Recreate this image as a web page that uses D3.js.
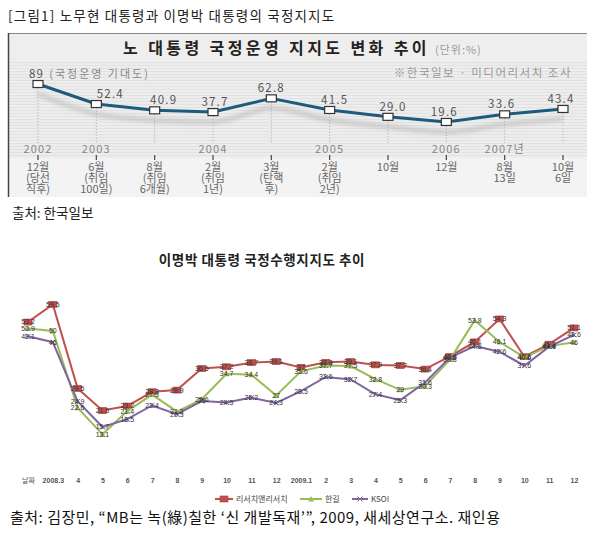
<!DOCTYPE html>
<html>
<head>
<meta charset="utf-8">
<script src="https://cdn.jsdelivr.net/npm/d3@7"></script>
<style>
  body { margin: 0; background: #fff; }
  svg { display: block; }
</style>
</head>
<body>
<script>
// ---- 노무현 대통령 국정운영 지지도 (한국일보)
var rohDates = ["2002-12", "2003-06", "2003-08", "2004-02", "2004-03", "2005-02", "2005-10", "2006-12", "2007-08", "2007-10"];
var rohValues = [89, 52.4, 40.9, 37.7, 62.8, 41.5, 29.0, 19.6, 33.6, 43.4];
var rohValueText = ["89", "52.4", "40.9", "37.7", "62.8", "41.5", "29.0", "19.6", "33.6", "43.4"];
var rohYears = ["2002", "2003", "", "2004", "", "2005", "", "2006", "2007년", ""];
var rohMonthText = [
  ["12월", "(당선", "직후)"], ["6월", "(취임", "100일)"], ["8월", "(취임", "6개월)"],
  ["2월", "(취임", "1년)"], ["3월", "(탄핵", "후)"], ["2월", "(취임", "2년)"],
  ["10월"], ["12월"], ["8월", "13일"], ["10월", "6일"]
];
// small horizontal nudges of the value labels
var rohLabelDx = [0, 14, 9, 2, 0, 5, 5, -2, -3, -2];

// ---- 이명박 대통령 국정수행지지도
var mbMonths = ["날짜", "2008.3", "4", "5", "6", "7", "8", "9", "10", "11", "12",
                "2009.1", "2", "3", "4", "5", "6", "7", "8", "9", "10", "11", "12"];
var rnr    = [53.2, 59.5, 29.5, 21.6, 23.2, 28.3, 28.9, 36.6, 37.2, 38.7, 39.1,
              37.0, 38.8, 39.1, 37.9, 37.7, 36.4, 40.9, 46.1, 54.3, 40.8, 45.3, 51.1];
var hangil = [50.9, 50, 22.6, 13.1, 21.4, 27.3, 21.2, 25.6, 34.7, 34.4, 27,
              35.6, 37.7, 37.5, 32.8, 29, 30.3, 39.8, 53.8, 46.1, 40.6, 44.6, 46];
var ksoi   = [48.1, 46, 24.9, 15.7, 18.5, 23.4, 20.3, 25.0, 24.5, 26.2, 24.3,
              28.5, 33.6, 32.7, 27.4, 25.3, 31.6, 40.5, 44.6, 42.6, 37.6, 44.4, 48.6];
var seriesNames = ["리서치앤리서치", "한길", "KSOI"];
var seriesColors = ["#c0504d", "#9bbb59", "#8064a2"];

var kr = "'Noto Sans CJK KR', 'Noto Sans', sans-serif";

var svg = d3.select("body").append("svg")
    .attr("width", 598)
    .attr("height", 540);

var defs = svg.append("defs");
defs.append("filter").attr("id", "soft")
    .attr("x", "-5%").attr("y", "-50%").attr("width", "110%").attr("height", "200%")
  .append("feGaussianBlur").attr("stdDeviation", 2.2);

// page header
svg.append("text")
    .attr("x", 8).attr("y", 21)
    .attr("font-family", kr).attr("font-size", 13.5)
    .attr("letter-spacing", 1.2)
    .attr("fill", "#222")
    .text("[그림1] 노무현 대통령과 이명박 대통령의 국정지지도");

// ================= top chart =================
var topG = svg.append("g");

topG.append("rect").attr("x", 8).attr("y", 33).attr("width", 579).attr("height", 164)
    .attr("fill", "#f3f3f3");
topG.append("rect").attr("x", 8).attr("y", 34).attr("width", 579).attr("height", 26)
    .attr("fill", "#eeeeee");
topG.append("rect").attr("x", 8).attr("y", 60).attr("width", 579).attr("height", 98)
    .attr("fill", "#e2e2e2");
// fine horizontal stripes
topG.append("g").selectAll("line")
    .data(d3.range(61, 158, 3))
  .enter().append("line")
    .attr("x1", 9).attr("x2", 587)
    .attr("y1", function(d) { return d; }).attr("y2", function(d) { return d; })
    .attr("stroke", "#f7f7f7").attr("stroke-width", 1.2);
// frame
topG.append("line").attr("x1", 8).attr("x2", 587).attr("y1", 33.5).attr("y2", 33.5)
    .attr("stroke", "#888").attr("stroke-width", 1.2);
topG.append("line").attr("x1", 8.5).attr("x2", 8.5).attr("y1", 33).attr("y2", 197)
    .attr("stroke", "#444").attr("stroke-width", 1.5);

// title
var tt = topG.append("text")
    .attr("x", 123).attr("y", 54)
    .attr("font-family", kr);
tt.append("tspan").attr("font-size", 16).attr("font-weight", "bold")
    .attr("letter-spacing", 3.4).attr("fill", "#222")
    .text("노 대통령 국정운영 지지도 변화 추이");
tt.append("tspan").attr("dx", 5).attr("font-size", 11).attr("fill", "#999")
    .attr("letter-spacing", 1)
    .text("(단위:%)");

topG.append("text")
    .attr("x", 572).attr("y", 77)
    .attr("text-anchor", "end")
    .attr("font-family", kr).attr("font-size", 11.5)
    .attr("letter-spacing", 1.5)
    .attr("fill", "#999")
    .text("※한국일보 · 미디어리서치 조사");

var rx = d3.scalePoint().domain(rohDates).range([38, 563]);
var ry = d3.scaleLinear().domain([0, 100]).range([132.7, 78]);

// dotted drop lines
topG.append("g").selectAll("line")
    .data(rohDates)
  .enter().append("line")
    .attr("x1", function(d) { return rx(d); })
    .attr("x2", function(d) { return rx(d); })
    .attr("y1", function(d, i) { return ry(rohValues[i]) + 4; })
    .attr("y2", 143)
    .attr("stroke", "#aaa").attr("stroke-width", 1)
    .attr("stroke-dasharray", "1,2");

var rohLine = d3.line()
    .x(function(d, i) { return rx(rohDates[i]); })
    .y(function(d) { return ry(d); });

// soft shadow under the line
topG.append("path")
    .datum(rohValues)
    .attr("d", d3.line().x(function(d, i) { return rx(rohDates[i]); })
      .y(function(d) { return ry(d); }).curve(d3.curveMonotoneX))
    .attr("transform", "translate(0,10)")
    .attr("fill", "none")
    .attr("stroke", "#a0a0a0").attr("stroke-width", 4)
    .attr("opacity", 0.5)
    .attr("filter", "url(#soft)");

topG.append("path")
    .datum(rohValues)
    .attr("d", rohLine)
    .attr("fill", "none")
    .attr("stroke", "#1d5b7e").attr("stroke-width", 3)
    .attr("stroke-linejoin", "round");

topG.append("g").selectAll("rect")
    .data(rohValues)
  .enter().append("rect")
    .attr("x", function(d, i) { return rx(rohDates[i]) - 5; })
    .attr("y", function(d) { return ry(d) - 3.5; })
    .attr("width", 10).attr("height", 7)
    .attr("fill", "#fff").attr("stroke", "#333").attr("stroke-width", 1.2);

// value labels
topG.append("g").selectAll("text")
    .data(rohValues)
  .enter().append("text")
    .attr("x", function(d, i) { return i === 0 ? 29 : rx(rohDates[i]) + rohLabelDx[i]; })
    .attr("y", function(d) { return ry(d) - 6; })
    .attr("text-anchor", function(d, i) { return i === 0 ? "start" : "middle"; })
    .attr("font-family", kr).attr("font-size", 11.5)
    .attr("letter-spacing", 1.2)
    .attr("fill", "#555")
    .text(function(d, i) { return rohValueText[i]; })
  .filter(function(d, i) { return i === 0; })
  .append("tspan")
    .attr("dx", 5).attr("fill", "#888").attr("font-size", 11)
    .attr("letter-spacing", 2)
    .text("(국정운영 기대도)");

// years, ticks, month captions
topG.append("g").selectAll("text")
    .data(rohYears)
  .enter().append("text")
    .attr("x", function(d, i) { return rx(rohDates[i]); })
    .attr("y", 153)
    .attr("text-anchor", "middle")
    .attr("font-family", kr).attr("font-size", 11)
    .attr("letter-spacing", 1.2)
    .attr("fill", "#888")
    .text(function(d) { return d; });

topG.append("g").selectAll("line")
    .data(rohDates)
  .enter().append("line")
    .attr("x1", function(d) { return rx(d); })
    .attr("x2", function(d) { return rx(d); })
    .attr("y1", 155).attr("y2", 160)
    .attr("stroke", "#444").attr("stroke-width", 1.2);

var monthG = topG.append("g").selectAll("text")
    .data(rohMonthText)
  .enter().append("text")
    .attr("font-family", kr).attr("font-size", 11)
    .attr("text-anchor", "middle")
    .attr("fill", "#666");
monthG.selectAll("tspan")
    .data(function(d, i) { return d.map(function(t) { return {t: t, x: rx(rohDates[i])}; }); })
  .enter().append("tspan")
    .attr("x", function(d) { return d.x; })
    .attr("y", function(d, j) { return 171 + j * 11; })
    .text(function(d) { return d.t; });

svg.append("text")
    .attr("x", 12).attr("y", 218)
    .attr("font-family", kr).attr("font-size", 13.5)
    .attr("fill", "#222")
    .text("출처: 한국일보");

// ================= bottom chart =================
svg.append("text")
    .attr("x", 262).attr("y", 265)
    .attr("text-anchor", "middle")
    .attr("font-family", kr).attr("font-size", 13.5)
    .attr("font-weight", "bold")
    .attr("letter-spacing", 0.6)
    .attr("fill", "#222")
    .text("이명박 대통령 국정수행지지도 추이");

// months repeat across the two years, so the scale runs on the index
var x = d3.scalePoint().domain(d3.range(mbMonths.length)).range([28, 574]);
var y = d3.scaleLinear().domain([0, 60]).range([471, 303]);

var xAxis = svg.append("g")
    .attr("transform", "translate(0,481)")
    .call(d3.axisBottom(x).tickSize(0).tickPadding(0)
      .tickFormat(function(i) { return mbMonths[i]; }));
xAxis.select(".domain").remove();
xAxis.selectAll("text")
    .attr("dy", "0.32em")
    .attr("font-family", "'Liberation Sans', Arial, sans-serif")
    .attr("font-size", 7).attr("font-weight", "bold")
    .attr("fill", "#555");
xAxis.selectAll(".tick text").filter(function(i) { return i === 0; })
    .attr("font-family", kr).attr("font-weight", "normal");

var mbSeries = [rnr, hangil, ksoi];
var mbLine = d3.line()
    .x(function(d, i) { return x(i); })
    .y(function(d) { return y(d); });

var sg = svg.append("g").selectAll("g")
    .data(mbSeries)
  .enter().append("g");

sg.append("path")
    .attr("d", function(d) { return mbLine(d); })
    .attr("fill", "none")
    .attr("stroke", function(d, k) { return seriesColors[k]; })
    .attr("stroke-width", 2);

function marker(sel, k, cx, cy) {
  if (k === 0) {
    sel.append("rect")
        .attr("x", cx - 4).attr("y", cy - 3).attr("width", 8).attr("height", 6)
        .attr("fill", "#c0504d").attr("stroke", "#a33d3a").attr("stroke-width", 0.6);
  } else if (k === 1) {
    sel.append("path")
        .attr("d", "M" + cx + "," + (cy - 3) + "L" + (cx + 3) + "," + (cy + 2.5) + "L" + (cx - 3) + "," + (cy + 2.5) + "Z")
        .attr("fill", "#9bbb59");
  } else {
    sel.append("path")
        .attr("d", "M" + (cx - 2.5) + "," + (cy - 2.5) + "L" + (cx + 2.5) + "," + (cy + 2.5) +
                   "M" + (cx + 2.5) + "," + (cy - 2.5) + "L" + (cx - 2.5) + "," + (cy + 2.5))
        .attr("stroke", "#8064a2").attr("stroke-width", 1);
  }
}

sg.each(function(vals, k) {
  var g = d3.select(this);
  vals.forEach(function(v, i) { marker(g, k, x(i), y(v)); });
});

// data labels, centred on the points
svg.append("g").selectAll("g")
    .data(mbSeries)
  .enter().append("g")
  .selectAll("text")
    .data(function(d) { return d; })
  .enter().append("text")
    .attr("x", function(d, i) { return x(i); })
    .attr("y", function(d) { return y(d); })
    .attr("dy", "0.35em")
    .attr("text-anchor", "middle")
    .attr("font-family", "'Liberation Sans', Arial, sans-serif")
    .attr("font-size", 7)
    .attr("fill", "#333")
    .text(function(d) { return String(d); });

// legend
var legendX = [215, 300, 352];
var legendW = [18, 22, 16];
var lg = svg.append("g").selectAll("g")
    .data(seriesNames)
  .enter().append("g");
lg.append("line")
    .attr("x1", function(d, k) { return legendX[k]; })
    .attr("x2", function(d, k) { return legendX[k] + legendW[k]; })
    .attr("y1", 499).attr("y2", 499)
    .attr("stroke", function(d, k) { return seriesColors[k]; })
    .attr("stroke-width", 2);
lg.each(function(d, k) {
  marker(d3.select(this), k, legendX[k] + legendW[k] / 2, 499);
});
lg.append("text")
    .attr("x", function(d, k) { return legendX[k] + legendW[k] + 3; })
    .attr("y", 499).attr("dy", "0.35em")
    .attr("font-family", kr).attr("font-size", 8)
    .attr("fill", "#444")
    .text(function(d) { return d; });

svg.append("text")
    .attr("x", 10).attr("y", 523)
    .attr("font-family", kr).attr("font-size", 15)
    .attr("letter-spacing", 0.5)
    .attr("fill", "#111")
    .text("출처: 김장민, “MB는 녹(綠)칠한 ‘신 개발독재’”, 2009, 새세상연구소. 재인용");
</script>
</body>
</html>
